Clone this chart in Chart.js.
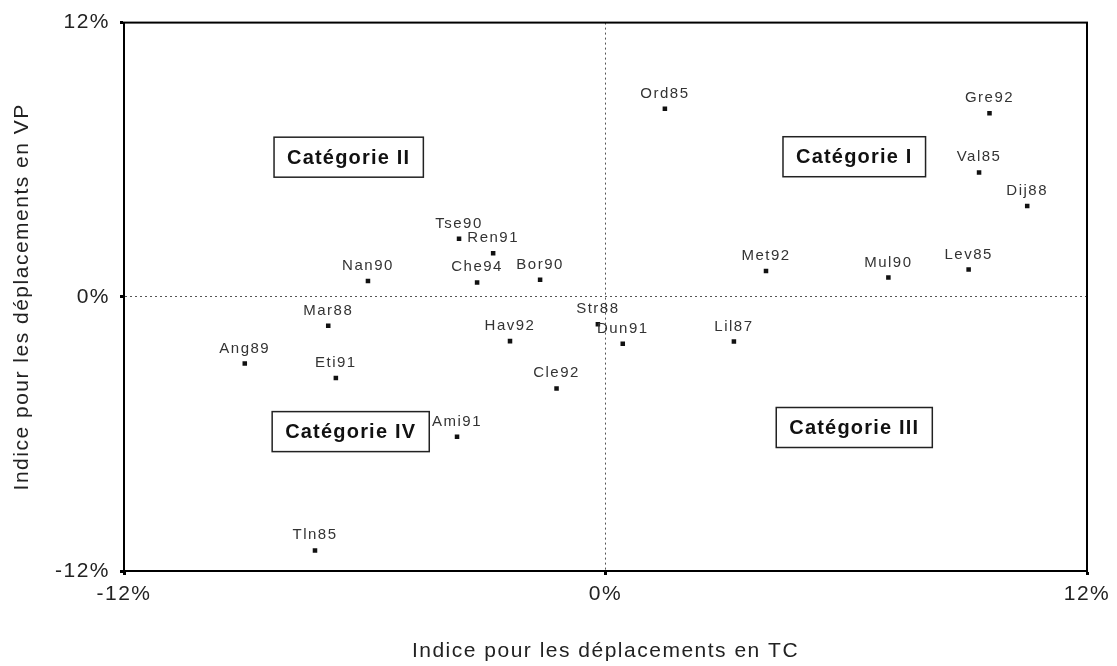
<!DOCTYPE html>
<html>
<head>
<meta charset="utf-8">
<script src="https://cdn.jsdelivr.net/npm/chart.js@4.4.1/dist/chart.umd.min.js"></script>
<style>
  body { margin: 0; background: #fff; }
  #wrap { width: 1117px; height: 666px; position: relative; }
</style>
</head>
<body>
<div id="wrap"><canvas id="myScatter"></canvas></div>
<script>
// villes / enquêtes
const cityNames = ['Ord85', 'Gre92', 'Val85', 'Dij88', 'Mul90', 'Lev85', 'Met92', 'Lil87',
  'Dun91', 'Str88', 'Cle92', 'Hav92', 'Bor90', 'Che94', 'Ren91', 'Tse90',
  'Nan90', 'Mar88', 'Ang89', 'Eti91', 'Tln85', 'Ami91'];
// indice TC (axe x, en %)
const tcValues = [1.48, 9.57, 9.31, 10.51, 7.05, 9.05, 4.0, 3.2,
  0.43, -0.19, -1.22, -2.38, -1.63, -3.2, -2.8, -3.65,
  -5.92, -6.91, -8.99, -6.72, -7.24, -3.7];
// indice VP (axe y, en %)
const vpValues = [8.23, 8.03, 5.44, 3.97, 0.84, 1.19, 1.13, -1.96,
  -2.05, -1.2, -4.01, -1.94, 0.75, 0.63, 1.91, 2.54,
  0.69, -1.27, -2.92, -3.55, -11.1, -6.12];
const axisTicks = [-12, 0, 12];
// les 4 catégories (centre en %)
const categoryNames = ['Catégorie I', 'Catégorie II', 'Catégorie III', 'Catégorie IV'];
const categoryX = [6.2, -6.4, 6.2, -6.35];
const categoryY = [6.13, 6.11, -5.72, -5.9];

const FONT = '"Liberation Sans", Arial, sans-serif';

const extrasPlugin = {
  id: 'extras',
  beforeDraw(chart) {
    chart.ctx.letterSpacing = '1.5px';
  },
  afterDatasetsDraw(chart) {
    const ctx = chart.ctx;
    const area = chart.chartArea;
    const xs = chart.scales.x, ys = chart.scales.y;
    ctx.save();
    // cadre
    ctx.strokeStyle = '#000';
    ctx.lineWidth = 2;
    ctx.strokeRect(area.left, area.top, area.right - area.left, area.bottom - area.top);

    // étiquettes des points
    ctx.font = '15px ' + FONT;
    ctx.fillStyle = '#333';
    ctx.textAlign = 'center';
    ctx.textBaseline = 'alphabetic';
    ctx.letterSpacing = '1.5px';
    const meta = chart.getDatasetMeta(0);
    meta.data.forEach((pt, i) => {
      ctx.fillText(cityNames[i], pt.x, pt.y - 11);
    });

    // boîtes catégories
    ctx.font = 'bold 20px ' + FONT;
    ctx.letterSpacing = '1.2px';
    ctx.textBaseline = 'middle';
    categoryNames.forEach((name, i) => {
      const cx = xs.getPixelForValue(categoryX[i]);
      const cy = ys.getPixelForValue(categoryY[i]);
      const w = ctx.measureText(name).width + 26;
      const h = 40;
      ctx.fillStyle = '#fff';
      ctx.fillRect(cx - w / 2, cy - h / 2, w, h);
      ctx.strokeStyle = '#222';
      ctx.lineWidth = 1.5;
      ctx.strokeRect(cx - w / 2, cy - h / 2, w, h);
      ctx.fillStyle = '#111';
      ctx.fillText(name, cx, cy + 1);
    });
    ctx.restore();
    ctx.letterSpacing = '1.5px';
  }
};

function axisOptions(titleText, isX) {
  return {
    type: 'linear',
    min: -12,
    max: 12,
    afterBuildTicks: (scale) => { scale.ticks = axisTicks.map(v => ({ value: v })); },
    afterFit: (scale) => {
      if (isX) scale.height = 95; else scale.width = 124;
    },
    ticks: {
      callback: (v) => v + '%',
      color: '#222',
      font: { family: FONT, size: 21 },
      padding: isX ? 7 : 10,
      maxRotation: 0
    },
    grid: {
      color: (c) => (c.tick && c.tick.value === 0) ? '#555' : 'rgba(0,0,0,0)',
      lineWidth: 1,
      tickColor: '#000',
      tickLength: 4,
      tickWidth: 3
    },
    border: { display: true, color: '#000', width: 2, dash: [2, 3] },
    title: {
      display: true,
      text: titleText,
      color: '#222',
      font: { family: FONT, size: 21 },
      padding: isX ? { top: 0, bottom: 2 } : { top: 10, bottom: 0 }
    }
  };
}

const ctx = document.getElementById('myScatter').getContext('2d');
new Chart(ctx, {
  type: 'scatter',
  data: {
    datasets: [{
      label: 'Villes',
      data: cityNames.map((n, i) => ({ x: tcValues[i], y: vpValues[i] })),
      pointStyle: 'rect',
      pointRadius: 3.2,
      backgroundColor: '#111',
      borderWidth: 0
    }]
  },
  options: {
    responsive: true,
    maintainAspectRatio: false,
    animation: false,
    layout: { padding: { left: 0, top: 22, right: 30, bottom: 0 } },
    plugins: {
      legend: { display: false },
      tooltip: { enabled: false }
    },
    scales: {
      x: axisOptions('Indice pour les déplacements en TC', true),
      y: axisOptions('Indice pour les déplacements en VP', false)
    }
  },
  plugins: [extrasPlugin]
});
</script>
</body>
</html>
